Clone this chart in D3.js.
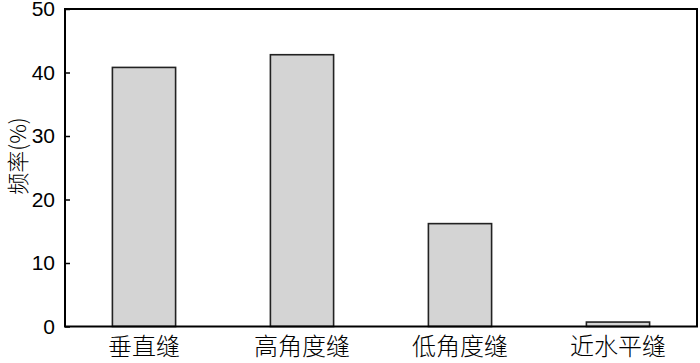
<!DOCTYPE html>
<html>
<head>
<meta charset="utf-8">
<script src="https://cdn.jsdelivr.net/npm/d3@7"></script>
<style>
  body { margin: 0; background: #fff; }
  svg { display: block; }
</style>
</head>
<body>
<svg width="700" height="363"></svg>
<script>
  // data
  const categories = ['垂直缝', '高角度缝', '低角度缝', '近水平缝'];
  const frequency = [40.8, 42.8, 16.2, 0.7];
  const yTicks = [0, 10, 20, 30, 40, 50];

  const svg = d3.select('svg');
  const plotLeft = 65, plotRight = 697, plotTop = 9, plotBottom = 326.5;

  const x = d3.scaleBand()
    .domain(categories)
    .range([plotLeft, plotRight])
    .paddingInner(0.6)
    .paddingOuter(0.3);

  const y = d3.scaleLinear()
    .domain([0, 50])
    .range([plotBottom, plotTop]);

  // bars
  svg.append('g').selectAll('rect')
    .data(categories)
    .enter().append('rect')
      .attr('x', d => x(d))
      .attr('y', (d, i) => y(frequency[i]))
      .attr('width', x.bandwidth())
      .attr('height', (d, i) => y(0) - y(frequency[i]))
      .attr('fill', '#d4d4d4')
      .attr('stroke', '#222')
      .attr('stroke-width', 1.6);

  // frame
  svg.append('rect')
    .attr('x', plotLeft)
    .attr('y', plotTop)
    .attr('width', plotRight - plotLeft)
    .attr('height', plotBottom - plotTop)
    .attr('fill', 'none')
    .attr('stroke', '#000')
    .attr('stroke-width', 2);

  // y axis, ticks pointing inwards
  const yAxis = svg.append('g')
    .attr('transform', `translate(${plotLeft},0)`)
    .call(d3.axisLeft(y).tickValues(yTicks).tickSizeInner(-5).tickSizeOuter(0).tickPadding(10));
  yAxis.select('.domain').remove();
  yAxis.selectAll('line').attr('stroke', '#000').attr('stroke-width', 1.5);
  yAxis.selectAll('text')
    .attr('fill', '#000')
    .style('font-family', '"Liberation Sans", Arial, sans-serif')
    .style('font-size', '21px');

  // x axis labels
  const xAxis = svg.append('g')
    .attr('transform', `translate(0,${plotBottom})`)
    .call(d3.axisBottom(x).tickSize(0).tickPadding(11));
  xAxis.select('.domain').remove();
  xAxis.selectAll('text')
    .attr('fill', '#000')
    .style('font-family', '"Noto Sans CJK SC", sans-serif')
    .style('font-weight', 300)
    .style('font-size', '24px');

  // y label
  svg.append('text')
    .attr('transform', 'translate(26,156) rotate(-90)')
    .attr('text-anchor', 'middle')
    .style('font-family', '"Noto Sans CJK SC", sans-serif')
    .style('font-weight', 300)
    .style('font-size', '22px')
    .text('频率(%)');
</script>
</body>
</html>
